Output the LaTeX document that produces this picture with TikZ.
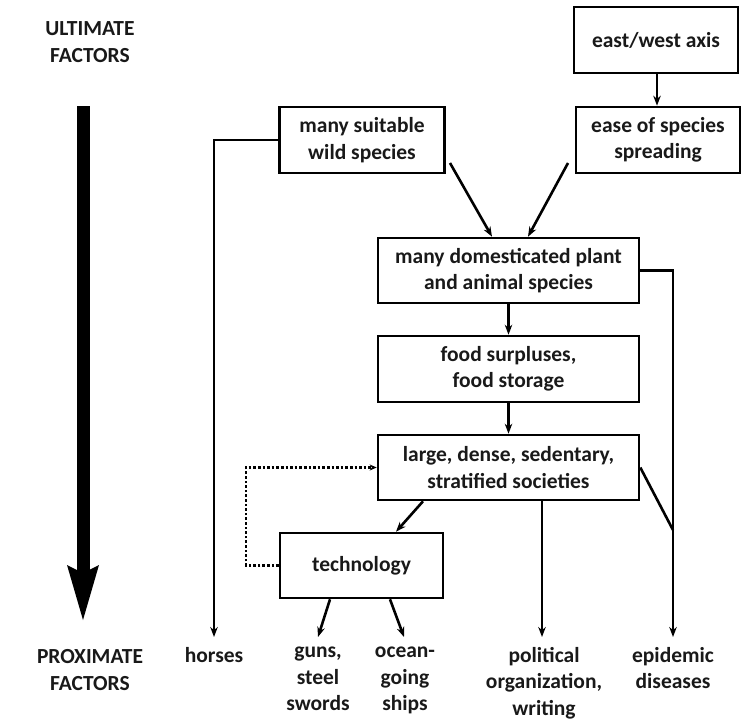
\documentclass[tikz,border=0pt]{standalone}
\usepackage{fontspec}
\setmainfont{Carlito}
\usetikzlibrary{arrows.meta}
\begin{document}
\begin{tikzpicture}[x=1pt,y=-1pt,
  every node/.style={font=\bfseries\fontsize{21.5}{26.5}\selectfont, text=black!90, align=center, inner sep=0pt},
  box/.style={draw=black, line width=2.6pt, minimum height=66pt},
  conn/.style={line width=2.6pt, -{Stealth[length=10pt,width=7.5pt]}},
  plain/.style={line width=2.6pt},
  lbl/.style={anchor=north}]
\useasboundingbox (0,0) rectangle (749,725);
% ultimate / proximate
\node (ult) at (90,42) {ULTIMATE\\FACTORS};
\node (prox) at (90,670) {PROXIMATE\\FACTORS};
\fill (76.5,106) rectangle (89.5,574);
\fill (67,565) -- (83,573) -- (99,565) -- (83,620) -- cycle;
% boxes
\node[box, minimum width=164pt] (ew) at (656,40) {east/west axis};
\node[box, minimum width=165pt] (wild) at (362,140) {many suitable\\wild species};
\node[box, minimum width=164pt] (ease) at (658,140) {ease of species\\spreading};
\node[box, minimum width=261pt, minimum height=65pt] (dom) at (508.5,270.5) {many domesticated plant\\and animal species};
\node[box, minimum width=261pt] (food) at (508.5,369) {food surpluses,\\food storage};
\node[box, minimum width=261pt, minimum height=65pt] (soc) at (508.5,467.5) {large, dense, sedentary,\\stratified societies};
\node[box, minimum width=163pt, minimum height=65pt] (tech) at (361.5,565.5) {technology};
% bottom labels
\node[lbl] (horses) at (214,647) {horses};
\node[lbl] (guns) at (318,647) {guns,\\steel\\swords};
\node[lbl] (ships) at (405,647) {ocean-\\going\\ships};
\node[lbl] (pol) at (544,647) {political\\organization,\\writing};
\node[lbl] (epi) at (673,647) {epidemic\\diseases};
% end points of the arrows above the labels
\coordinate (hz) at (214,637);
\coordinate (gz) at (318,637);
\coordinate (sz) at (404,637);
\coordinate (pz) at (542,637);
\coordinate (ez) at (673,637);
% connectors
\draw[conn] (ew.south -| 657,0) -- (ease.north -| 657,0);
\coordinate (w1) at (450,163);
\coordinate (e1) at (568,163);
\draw[conn] (w1) -- (dom.north -| 492,0);
\draw[conn] (e1) -- (dom.north -| 528,0);
\draw[conn] (dom) -- (food);
\draw[conn] (food) -- (soc);
\draw[conn] (soc.south -| 423,0) -- (tech.north -| 396,0);
\draw[line width=2.6pt, dotted, -{Stealth[length=7pt,width=6pt]}] (tech.west) -- (246,565.5) |- (soc.west);
\draw[conn] (wild.west) -| (hz);
\draw[conn] (tech.south -| 330,0) -- (gz);
\draw[conn] (tech.south -| 390,0) -- (sz);
\draw[conn] (soc.south -| 542,0) -- (pz);
\draw[conn] (dom.east) -| (ez);
\coordinate (j) at (673,530);
\draw[plain] (soc.east) -- (j);
\end{tikzpicture}
\end{document}
